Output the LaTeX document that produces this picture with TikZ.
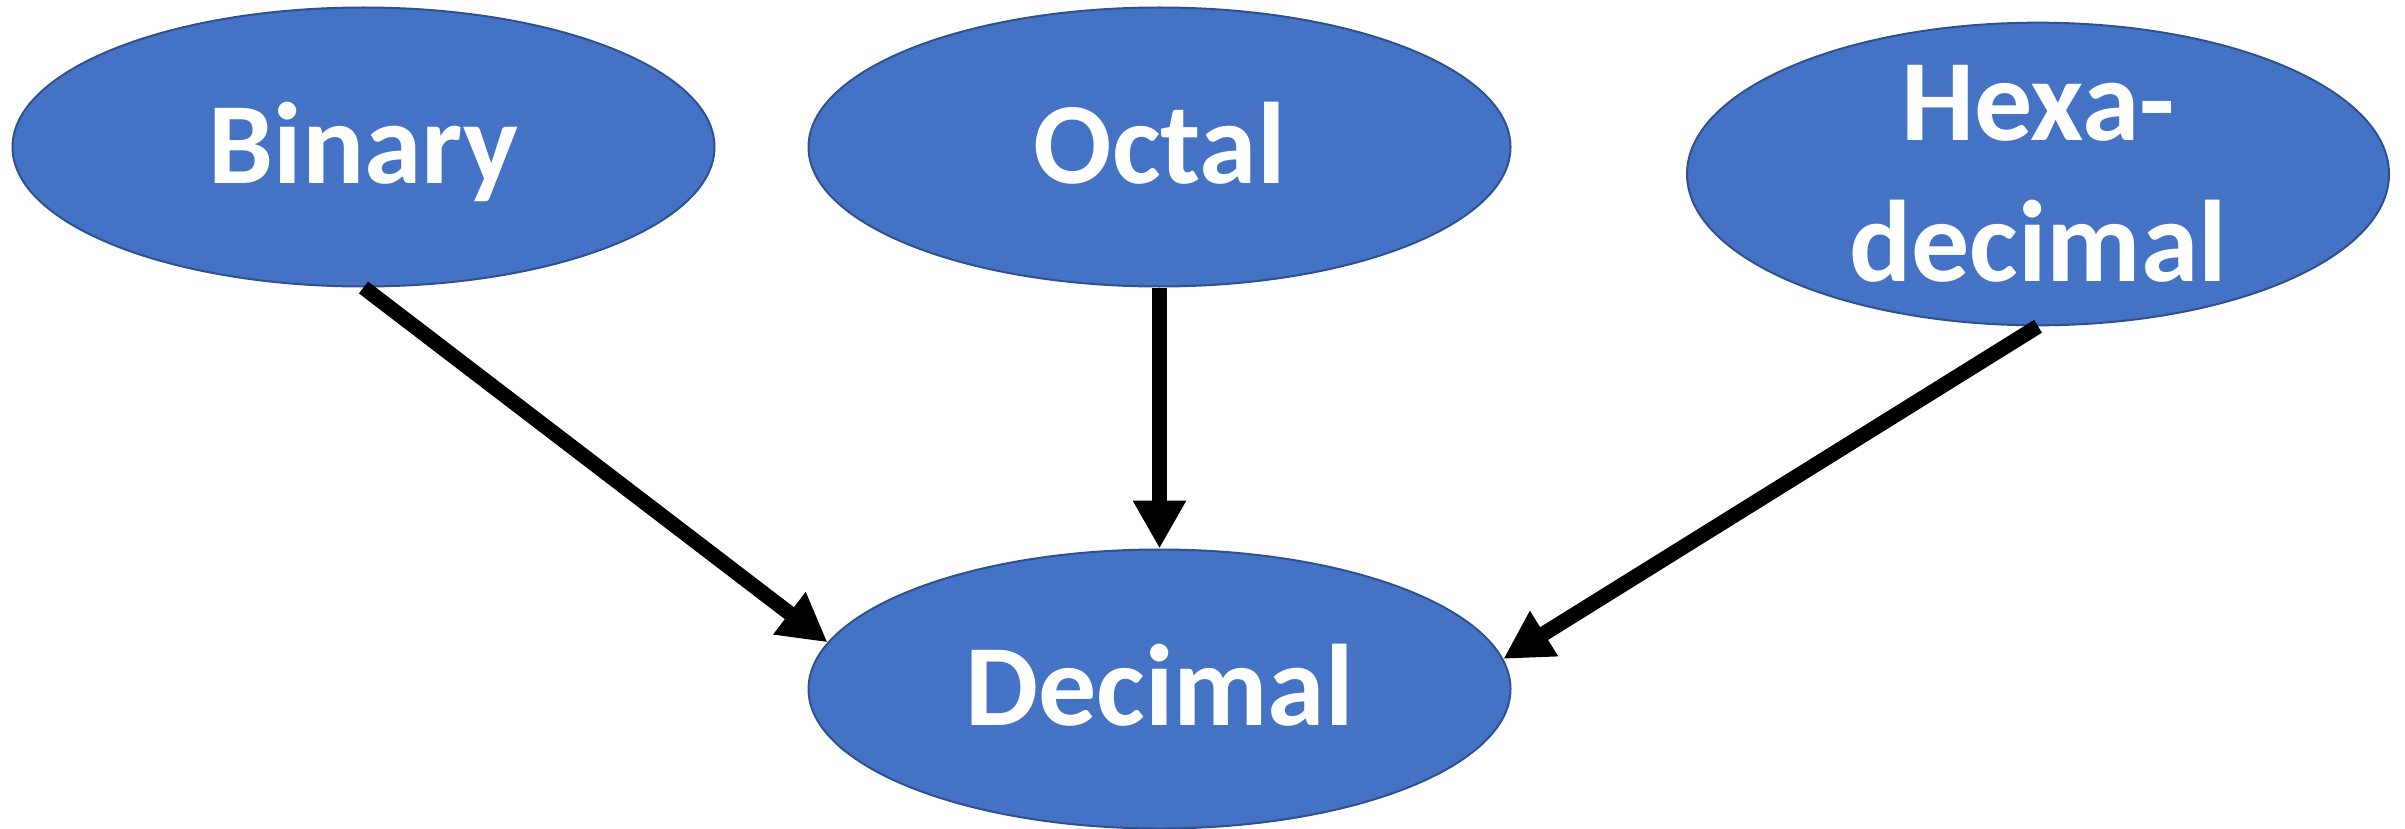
\documentclass[tikz,border=0pt]{standalone}
\usepackage{fontspec}
\setmainfont{Carlito}
\usetikzlibrary{arrows.meta,shapes.geometric}
\definecolor{nodefill}{HTML}{4472C4}
\definecolor{nodeedge}{HTML}{2F528F}
\begin{document}
\begin{tikzpicture}[x=1pt,y=1pt,
  numsys/.style={ellipse, draw=nodeedge, line width=2pt, fill=nodefill,
    minimum width=702pt, minimum height=279pt, inner sep=0pt,
    text=white, font=\fontsize{116}{141}\selectfont\bfseries,
    text height=73pt, text depth=0pt, align=center},
  conv/.style={line width=15pt, -{Triangle[length=48pt,width=50pt]}}]
  \useasboundingbox (0,0) rectangle (2405,-829);
  \node[numsys] (bin) at (363.5,-147) {Binary};
  \node[numsys] (oct) at (1159.5,-147) {Octal};
  \node[numsys, text height=214pt] (hex) at (2038,-174) {Hexa-\\decimal};
  \node[numsys] (dec) at (1159.5,-689) {Decimal};
  \draw[conv] (bin.south) -- (dec.172);
  \draw[conv] (oct.south) -- (dec.north);
  \draw[conv] (hex.south) -- (dec.5.7);
\end{tikzpicture}
\end{document}
